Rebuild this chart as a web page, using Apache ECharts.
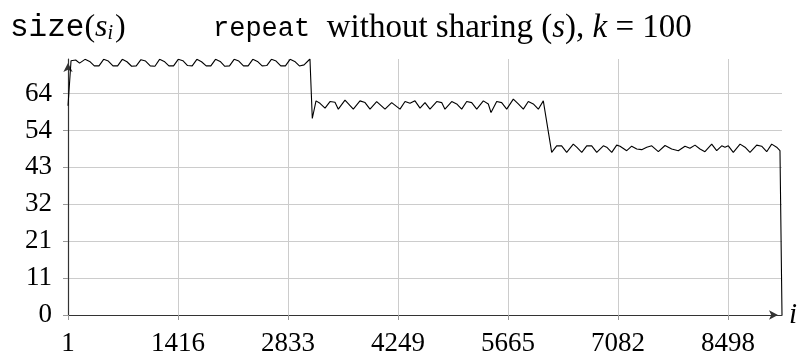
<!DOCTYPE html>
<html>
<head>
<meta charset="utf-8">
<script src="https://cdn.jsdelivr.net/npm/echarts@6/dist/echarts.min.js"></script>
<style>
  html, body { margin: 0; padding: 0; background: #fff; }
  #chart { width: 803px; height: 353px; }
</style>
</head>
<body>
<div id="chart"></div>
<script>
// ---- data ----
const xTickValues = [1, 1416, 2833, 4249, 5665, 7082, 8498];
const yTickValues = [0, 10.6667, 21.3333, 32, 42.6667, 53.3333, 64];
const yTickLabels = ['0', '11', '21', '32', '43', '54', '64'];
const xMin = 1, xMax = 9193, yMin = 0, yMax = 74;

// plateau 1
const seg1I = [1, 40, 100, 150, 220, 280, 340, 400, 460, 520, 580, 640, 700, 760, 820, 880, 940, 1000, 1060, 1120,
  1180, 1240, 1300, 1360, 1420, 1480, 1540, 1600, 1660, 1720, 1780, 1840, 1900, 1960, 2020, 2080, 2140, 2200, 2260,
  2320, 2380, 2440, 2500, 2560, 2620, 2680, 2740, 2800, 2860, 2920, 2980, 3040, 3116];
const seg1Size = [60.5, 73.5, 73.7, 72.8, 73.9, 73.3, 72.0, 72.0, 73.9, 73.4, 72.0, 72.0, 73.9, 73.2, 71.9, 72.0, 73.8, 73.4, 72.0, 71.9,
  73.9, 73.3, 72.0, 72.0, 73.9, 73.5, 72.1, 72.0, 73.9, 73.2, 72.0, 72.0, 73.9, 73.3, 71.9, 72.0, 73.9, 73.4, 72.0,
  72.0, 73.9, 73.3, 72.0, 72.1, 73.9, 73.4, 72.0, 72.0, 73.9, 73.3, 72.0, 72.3, 74.0];
// plateau 2
const seg2I = [3146, 3194, 3245, 3310, 3374, 3438, 3481, 3567, 3674, 3760, 3825, 3889, 3975, 4082, 4168, 4275, 4340, 4404,
  4468, 4533, 4597, 4661, 4748, 4812, 4854, 4941, 5005, 5069, 5134, 5198, 5263, 5348, 5412, 5447, 5520, 5584, 5649,
  5734, 5798, 5863, 5927, 5991, 6056, 6120, 6142];
const seg2Size = [56.8, 61.9, 61.2, 59.8, 61.7, 61.5, 59.5, 62.1, 59.5, 61.9, 61.4, 59.5, 61.7, 59.5, 61.4, 59.5, 61.7, 61.2,
  61.9, 59.8, 61.4, 59.5, 61.7, 61.4, 59.5, 61.7, 61.0, 59.5, 61.7, 61.4, 59.5, 61.9, 61.0, 58.5, 61.7, 61.4, 59.5,
  62.4, 61.0, 59.5, 61.7, 61.0, 59.5, 61.9, 61.4];
// plateau 3
const seg3I = [6228, 6292, 6356, 6421, 6506, 6550, 6615, 6679, 6743, 6808, 6893, 6936, 7001, 7065, 7108, 7194, 7258, 7323,
  7387, 7452, 7516, 7601, 7687, 7773, 7858, 7944, 8008, 8073, 8137, 8201, 8288, 8352, 8417, 8459, 8502, 8566, 8653,
  8717, 8781, 8867, 8931, 8996, 9060, 9124, 9167, 9193];
const seg3Size = [47.0, 48.9, 48.9, 47.0, 49.4, 48.5, 47.0, 48.9, 48.9, 47.0, 48.9, 48.5, 47.0, 49.1, 48.8, 47.5, 48.8, 48.0,
  47.8, 48.5, 48.9, 47.2, 49.0, 48.0, 47.5, 48.8, 48.2, 49.1, 48.0, 47.2, 49.4, 47.5, 48.9, 48.5, 48.9, 47.0, 49.4,
  48.5, 47.0, 49.1, 48.8, 47.2, 49.4, 48.5, 47.5, 0];

const iValues = seg1I.concat(seg2I, seg3I);
const sizeValues = seg1Size.concat(seg2Size, seg3Size);
const lineData = iValues.map((v, k) => [v, sizeValues[k]]);

// ---- chart ----
const SERIF = '"Liberation Serif", "DejaVu Serif", serif';
const MONO = '"Liberation Mono", "DejaVu Sans Mono", monospace';
const chart = echarts.init(document.getElementById('chart'), null, { renderer: 'canvas' });

chart.setOption({
  animation: false,
  backgroundColor: '#ffffff',
  grid: { left: 68, right: 21, top: 59, bottom: 38, containLabel: false, outerBoundsMode: 'none' },
  xAxis: {
    type: 'value',
    min: xMin,
    max: xMax,
    name: 'i',
    nameLocation: 'end',
    nameGap: 7,
    nameTextStyle: { fontFamily: SERIF, fontStyle: 'italic', fontSize: 29, color: '#000' },
    axisLine: { show: true, onZero: false, lineStyle: { color: '#333', width: 1.2 },
      symbol: ['none', 'arrow'], symbolSize: [7, 9], symbolOffset: [0, -4] },
    axisTick: { show: true, length: 5, inside: false, customValues: xTickValues, lineStyle: { color: '#999' } },
    axisLabel: { customValues: xTickValues, fontFamily: SERIF, fontSize: 27, color: '#000', margin: 15,
      formatter: v => String(v) },
    splitLine: { show: true, lineStyle: { color: '#cccccc', width: 1 } }
  },
  yAxis: {
    type: 'value',
    min: yMin,
    max: yMax,
    axisLine: { show: true, onZero: false, lineStyle: { color: '#333', width: 1.2 },
      symbol: ['none', 'arrow'], symbolSize: [7, 9], symbolOffset: [0, -4] },
    axisTick: { show: true, length: 5, inside: false, customValues: yTickValues, lineStyle: { color: '#999' } },
    axisLabel: { customValues: yTickValues, fontFamily: SERIF, fontSize: 27, color: '#000', margin: 16,
      formatter: v => yTickLabels[Math.round(v * 6 / 64)] },
    splitLine: { show: true, lineStyle: { color: '#cccccc', width: 1 } }
  },
  series: [{
    type: 'line',
    data: lineData,
    showSymbol: false,
    symbol: 'none',
    lineStyle: { color: '#000', width: 1.1 },
    z: 5
  }],
  graphic: [
    {
      type: 'text',
      left: 10,
      top: 12,
      style: {
        text: '{tt|size}{rm|(}{it|s}{sub|i}{rm|)}',
        rich: {
          tt: { fontFamily: MONO, fontSize: 31, fill: '#000', lineHeight: 38 },
          rm: { fontFamily: SERIF, fontSize: 32, fill: '#000', lineHeight: 38 },
          it: { fontFamily: SERIF, fontStyle: 'italic', fontSize: 32, fill: '#000', lineHeight: 38 },
          sub: { fontFamily: SERIF, fontStyle: 'italic', fontSize: 20, fill: '#000', lineHeight: 38, padding: [12, 2, 0, 0] }
        }
      }
    },
    {
      type: 'text',
      left: 213,
      top: 12,
      style: {
        text: '{tt|repeat}{rm|  without sharing (}{it|s}{rm|), }{it|k}{rm| = 100}',
        rich: {
          tt: { fontFamily: MONO, fontSize: 27, fill: '#000', lineHeight: 38 },
          rm: { fontFamily: SERIF, fontSize: 33, fill: '#000', lineHeight: 38 },
          it: { fontFamily: SERIF, fontStyle: 'italic', fontSize: 33, fill: '#000', lineHeight: 38 }
        }
      }
    }
  ]
});
</script>
</body>
</html>
